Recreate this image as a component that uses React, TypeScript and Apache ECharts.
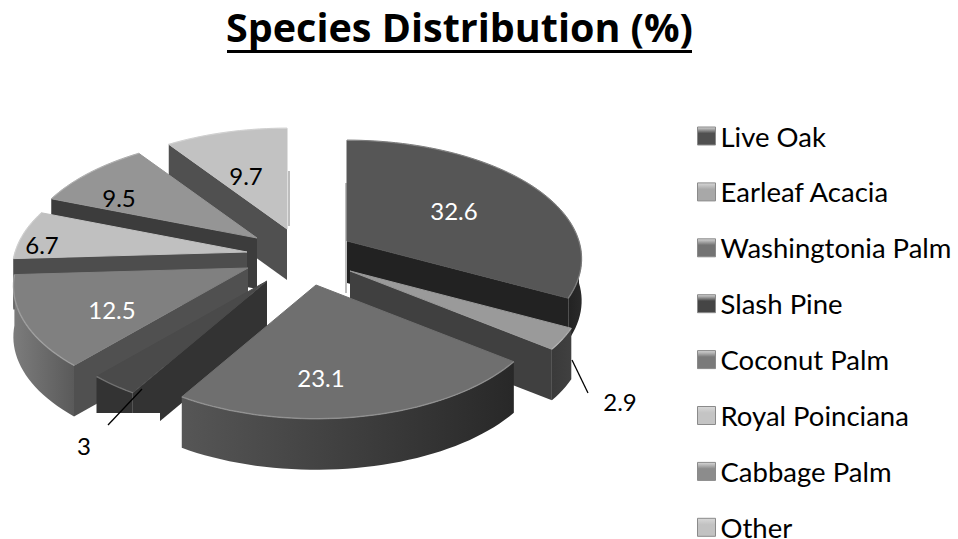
import React, { useEffect, useRef } from "react";
import * as echarts from "echarts";

const categories = ["Live Oak", "Earleaf Acacia", "Washingtonia Palm", "Slash Pine", "Coconut Palm", "Royal Poinciana", "Cabbage Palm", "Other"];
const values = [32.6, 2.9, 23.1, 3, 12.5, 6.7, 9.5, 9.7];
const valueLabels = ["32.6", "2.9", "23.1", "3", "12.5", "6.7", "9.5", "9.7"];

const FONT = "Lato";
const CENTER = [316, 255];
const RX = 232, RY = 116, PERSPECTIVE = 0.15;

// Explosion of each slice away from the pie centre, px
const explode = [[31, -14], [34, 16], [0, 30], [-49, 26], [-68, 13], [-69, -3], [-59, -17], [-29, -26]];
const sliceScale = [1, 1, 0.98, 0.98, 1, 1, 1, 1];
const sliceDepth = [42, 51, 51, 51, 51, 51, 51, 51];
// Paint order, back to front
const paintOrder = [7, 6, 5, 4, 3, 0, 1, 2];
const topColors = ["#565656", "#9a9a9a", "#6f6f6f", "#4a4a4a", "#808080", "#c0c0c0", "#959595", "#c2c2c2"];
const cutColors = ["#222222", "#404040", "#333333", "#333333", "#505050", "#4d4d4d", "#3c3c3c", "#505050"];
const outerStops = [
  ["#222222", "#2a2a2a"],
  ["#3a3a3a", "#404040"],
  ["#565656", "#282828"],
  ["#333333", "#333333"],
  ["#7c7c7c", "#5a5a5a"],
  ["#7c7c7c", "#7c7c7c"],
  ["#3c3c3c", "#3c3c3c"],
  ["#505050", "#505050"],
];
const legendColors = ["#505050", "#a8a8a8", "#737373", "#454545", "#7a7a7a", "#c4c4c4", "#8c8c8c", "#c2c2c2"];
const labelColors = ["#fff", "#000", "#fff", "#000", "#fff", "#000", "#000", "#000"];
// Label anchor relative to the slice's apex, px
const labelShift = [[107, -31], [270, 130], [5, 92], [-183, 164], [-136, 41], [-205, -8], [-138, -41], [-41, -54]];
// Leader lines relative to the slice's apex, px
const leaders: Record<number, number[]> = { 1: [222, 89, 238, 122], 3: [-125, 108, -159, 144] };

const total = values.reduce((a, b) => a + b, 0);
const startAngles = values.map((_, i) => (values.slice(0, i).reduce((a, b) => a + b, 0) / total) * 360);

function rim(theta: number, s: number): number[] {
  const t = (theta * Math.PI) / 180;
  const v = Math.cos(t);
  const p = s / (1 + PERSPECTIVE * v);
  return [RX * Math.sin(t) * p, -RY * v * p];
}

function arcPoints(a0: number, a1: number, s: number): number[][] {
  const n = Math.max(2, Math.ceil((a1 - a0) / 2));
  const pts: number[][] = [];
  for (let i = 0; i <= n; i++) pts.push(rim(a0 + ((a1 - a0) * i) / n, s));
  return pts;
}

function sliceItem(i: number) {
  return function renderItem(_p: any, api: any) {
    const a0 = startAngles[i];
    const a1 = a0 + (api.value(0) / total) * 360;
    const s = sliceScale[i];
    const DEPTH = sliceDepth[i];
    const ax = CENTER[0] + explode[i][0];
    const ay = CENTER[1] + explode[i][1];
    const at = (q: number[], d = 0) => [ax + q[0], ay + q[1] + d];
    const children: any[] = [];

    // Outer wall (front half only)
    const o0 = Math.max(a0, 90), o1 = Math.min(a1, 270);
    if (o1 > o0) {
      const arc = arcPoints(o0, o1, s);
      children.push({
        type: "polygon",
        shape: { points: [...arc.map((q) => at(q)), ...arc.slice().reverse().map((q) => at(q, DEPTH))] },
        style: {
          fill: new echarts.graphic.LinearGradient(0, 0, 1, 0, [
            { offset: 0, color: outerStops[i][0] },
            { offset: 1, color: outerStops[i][1] },
          ]),
        },
      });
    }
    // Radial cut walls that face the viewer
    const wall = (angle: number) => {
      const e = rim(angle, s);
      children.push({
        type: "polygon",
        shape: { points: [at([0, 0]), at(e), at(e, DEPTH), at([0, 0], DEPTH)] },
        style: { fill: cutColors[i] },
      });
    };
    if (a0 > 180) wall(a0);
    if (a1 < 180) wall(a1);
    // Thin shadow of the wall standing on the vertical edge
    if (i === 0 || i === 7) {
      const x = ax + (i === 0 ? -2 : 1);
      children.push({
        type: "rect",
        shape: { x, y: ay - 58, width: 2, height: i === 0 ? 110 : 55 },
        style: { fill: "#bdbdbd" },
      });
    }
    // Top face
    const top = arcPoints(a0, a1, s);
    children.push({
      type: "polygon",
      shape: { points: [at([0, 0]), ...top.map((q) => at(q))] },
      style: { fill: topColors[i], stroke: topColors[i], lineWidth: 1 },
    });
    children.push({
      type: "polyline",
      shape: { points: top.map((q) => at(q)) },
      style: { fill: "none", stroke: "rgba(255,255,255,0.22)", lineWidth: 1.5 },
    });
    // The white patch the source chart has behind the label "3"
    if (i === 3) {
      children.push({ type: "rect", shape: { x: ax - 172, y: ay + 132, width: 65, height: 42 }, style: { fill: "#fff" } });
    }
    if (leaders[i]) {
      const l = leaders[i];
      children.push({
        type: "line",
        shape: { x1: ax + l[0], y1: ay + l[1], x2: ax + l[2], y2: ay + l[3] },
        style: { stroke: "#000", lineWidth: 1.3 },
      });
    }
    children.push({
      type: "text",
      style: {
        text: valueLabels[i],
        x: ax + labelShift[i][0],
        y: ay + labelShift[i][1],
        fill: labelColors[i],
        font: `24px ${FONT}`,
        align: "center",
        verticalAlign: "middle",
      },
    });
    return { type: "group", children };
  };
}

export default function App() {
  const ref = useRef<HTMLDivElement>(null);
  useEffect(() => {
    const chart = echarts.init(ref.current!, undefined, { renderer: "svg" });
    chart.setOption({
      animation: false,
      backgroundColor: "#fff",
      title: {
        text: "Species Distribution (%)",
        left: 459.5,
        textAlign: "center",
        top: 7,
        padding: 0,
        textStyle: { fontFamily: "Open Sans", fontWeight: "bold", fontSize: 39.5, color: "#000" },
      },
      graphic: [{ type: "rect", z: 20, shape: { x: 227, y: 50, width: 465, height: 3 }, style: { fill: "#000" } }],
      legend: {
        orient: "vertical",
        left: 697,
        top: 122,
        height: 600,
        padding: 0,
        itemWidth: 18,
        itemHeight: 18,
        itemGap: 27.9,
        selectedMode: false,
        textStyle: { fontFamily: FONT, fontSize: 27.5, color: "#000" },
        data: categories.map((name, i) => ({
          name,
          icon: "rect",
          itemStyle: {
            borderColor: "#8a8a8a",
            borderWidth: 1,
            color: new echarts.graphic.LinearGradient(0, 0, 0, 1, [
              { offset: 0, color: "#d8d8d8" },
              { offset: 0.35, color: legendColors[i] },
              { offset: 1, color: legendColors[i] },
            ]),
          },
        })),
      },
      series: categories.map((name, i) => ({
        type: "custom",
        name,
        coordinateSystem: "none",
        z: 2 + paintOrder.indexOf(i),
        silent: true,
        itemStyle: { color: topColors[i] },
        data: [[values[i]]],
        renderItem: sliceItem(i),
      })),
    });
    return () => chart.dispose();
  }, []);
  return <div ref={ref} style={{ position: "absolute", left: 0, top: 0, width: 958, height: 539 }} />;
}
